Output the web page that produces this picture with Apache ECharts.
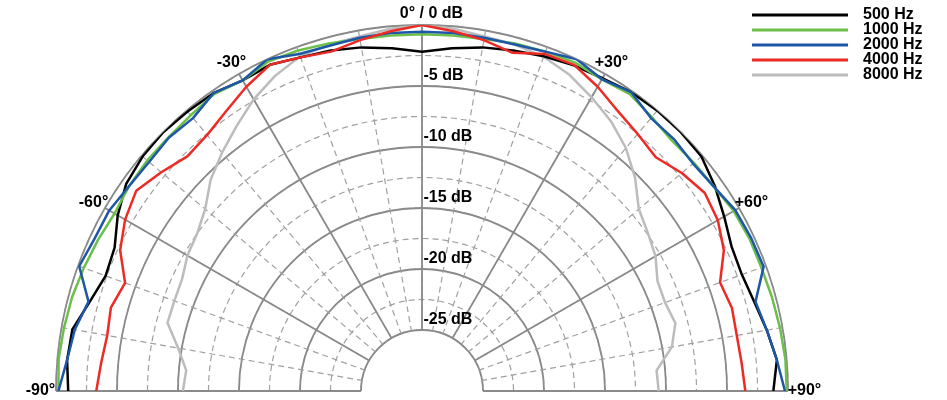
<!DOCTYPE html>
<html>
<head>
<meta charset="utf-8">
<script src="https://cdn.jsdelivr.net/npm/echarts@6/dist/echarts.min.js"></script>
<style>
html,body{margin:0;padding:0;background:#fff;}
#chart{width:947px;height:400px;}
</style>
</head>
<body>
<div id="chart"></div>
<script>
// Angles in degrees (measurement positions)
const angles = [-90,-85,-80,-75,-70,-65,-60,-55,-50,-45,-40,-35,-30,-25,-20,-15,-10,-5,0,5,10,15,20,25,30,35,40,45,50,55,60,65,70,75,80,85,90];

// Relative level in dB per frequency
const db500  = [-1.0,-0.8,-0.9,-1.8,-2.4,-2.2,-1.2,-0.4,-0.1,0,-0.1,-0.2,-0.6,-0.5,-0.9,-1.1,-1.4,-1.8,-2.2,-1.8,-1.4,-1.1,-0.8,-0.55,-0.4,-0.1,0,0,-0.1,-0.7,-1.4,-2.0,-2.1,-1.8,-1.3,-0.8,-1.2];
const db1000 = [-0.2,-0.1,-0.2,-0.3,-0.5,-0.7,-0.9,-0.7,-0.6,-0.6,-0.5,-0.3,-0.6,-0.2,-0.3,-0.5,-0.7,-0.75,-0.75,-0.75,-0.7,-0.5,-0.4,-0.3,-0.5,-0.3,-0.7,-1.0,-0.9,-0.8,-0.5,-0.4,-0.4,-0.3,-0.2,-0.1,-0.1];
const db2000 = [-0.2,-0.8,-1.1,-1.7,-0.1,-0.4,-0.4,-0.7,-0.8,-0.65,-0.8,-0.2,-0.6,0,-0.6,-0.7,-0.6,-0.55,-0.55,-0.55,-0.6,-0.6,-0.4,0,-0.5,-0.1,-0.8,-0.8,-1.0,-0.8,-0.35,-0.25,-0.2,-1.7,-1.3,-0.8,-0.25];
const db4000 = [-3.3,-3.6,-3.8,-3.6,-4.1,-2.7,-1.9,-1.4,-2.1,-2.8,-2.6,-2.0,-1.2,-0.5,-0.9,-1.2,-0.8,-0.4,0,-0.4,-0.8,-1.3,-0.6,-0.5,-1.2,-2.0,-2.5,-2.9,-2.2,-1.7,-2.0,-2.7,-4.0,-3.7,-3.8,-3.7,-3.5];
const db8000 = [-10.4,-10.6,-9.7,-8.4,-8.4,-8.3,-7.8,-7.5,-6.8,-5.5,-4.5,-3.5,-2.4,-1.5,-0.8,-0.6,-0.5,-0.2,0,-0.2,-0.5,-0.6,-0.85,-1.4,-2.2,-3.0,-4.0,-5.3,-6.8,-7.4,-7.9,-8.7,-8.8,-8.5,-9.2,-10.7,-10.6];

const seriesNames  = ['500 Hz','1000 Hz','2000 Hz','4000 Hz','8000 Hz'];
const seriesColors = ['#000000','#6cc04a','#1e56a8','#ee2a24','#bcbcbc'];

// Axis labels
const dbTicks = [-5,-10,-15,-20,-25];
const dbTickLabels = ['-5 dB','-10 dB','-15 dB','-20 dB','-25 dB'];
const angleTicks = [0,-30,30,-60,60,-90,90];
const angleTickLabels = ['0° / 0 dB','-30°','+30°','-60°','+60°','-90°','+90°'];
const angleLabelOffsets = [[10,-11],[-7,-11],[7,-11],[-11,-5],[13,-5],[-15,0],[17,0]];

const FONT = '"Liberation Sans", Arial, Helvetica, sans-serif';
const chart = echarts.init(document.getElementById('chart'), null, {renderer:'canvas'});

const polarCommon = {center:[422,391], radius:[61,366]};
const dataSets = [db500, db1000, db2000, db4000, db8000];
const drawOrder = [4,0,1,2,3];

const series = drawOrder.map(i => ({
  name: seriesNames[i],
  type: 'line',
  coordinateSystem: 'polar',
  polarIndex: 1,
  symbol: 'none',
  smooth: false,
  silent: true,
  z: 3 + drawOrder.indexOf(i),
  lineStyle: {color: seriesColors[i], width: 2.5},
  itemStyle: {color: seriesColors[i]},
  data: angles.map((a, k) => [dataSets[i][k], a])
}));

const labelStyle = {fontFamily: FONT, fontWeight: 'bold', fontSize: 16, color: '#000', opacity: 1};

series.push({
  name: 'dbLabels',
  type: 'scatter', coordinateSystem: 'polar', polarIndex: 1, silent: true,
  symbol: 'circle', symbolSize: 1, itemStyle: {color: 'rgba(255,255,255,0)'}, z: 10,
  data: dbTicks.map((d, k) => ({value: [d, 0], name: dbTickLabels[k]})),
  label: Object.assign({show: true, formatter: p => p.name, position: [2, -10], align: 'left', verticalAlign: 'middle'}, labelStyle)
});
series.push({
  name: 'angleLabels',
  type: 'scatter', coordinateSystem: 'polar', polarIndex: 1, silent: true,
  symbol: 'circle', symbolSize: 1, itemStyle: {color: 'rgba(255,255,255,0)'}, z: 10,
  data: angleTicks.map((a, k) => ({value: [0, a], name: angleTickLabels[k],
        label: {position: angleLabelOffsets[k]}})),
  label: Object.assign({show: true, formatter: p => p.name, align: 'center', verticalAlign: 'middle'}, labelStyle)
});

const option = {
  animation: false,
  backgroundColor: '#fff',
  legend: {
    left: 752, top: 7, orient: 'vertical', padding: 0,
    data: seriesNames,
    icon: 'rect', itemWidth: 96, itemHeight: 3, itemGap: -1,
    textStyle: {fontFamily: FONT, fontWeight: 'bold', fontSize: 16, color: '#000', lineHeight: 16, padding: [0,0,0,10]},
    selectedMode: false
  },
  polar: [Object.assign({}, polarCommon), Object.assign({}, polarCommon)],
  angleAxis: [
    {polarIndex: 0, type: 'value', min: -90, max: 90, interval: 10, startAngle: 180, endAngle: 0, clockwise: true,
     axisLine: {show: false}, axisTick: {show: false}, axisLabel: {show: false},
     splitLine: {show: true, lineStyle: {color: '#a0a0a0', width: 1.2, type: [6,4]}}},
    {polarIndex: 1, type: 'value', min: -90, max: 90, interval: 30, startAngle: 180, endAngle: 0, clockwise: true,
     axisLine: {show: false}, axisTick: {show: false}, axisLabel: {show: false},
     splitLine: {show: true, lineStyle: {color: '#8a8a8a', width: 1.8}}}
  ],
  radiusAxis: [
    {polarIndex: 0, type: 'value', min: -25, max: 0, interval: 2.5,
     axisLine: {show: false}, axisTick: {show: false}, axisLabel: {show: false},
     splitLine: {show: true, lineStyle: {color: '#a0a0a0', width: 1.2, type: [6,4]}}},
    {polarIndex: 1, type: 'value', min: -25, max: 0, interval: 5,
     axisLine: {show: false}, axisTick: {show: false}, axisLabel: {show: false},
     splitLine: {show: true, lineStyle: {color: '#8a8a8a', width: 1.8}}}
  ],
  series: series
};
chart.setOption(option);
</script>
</body>
</html>
